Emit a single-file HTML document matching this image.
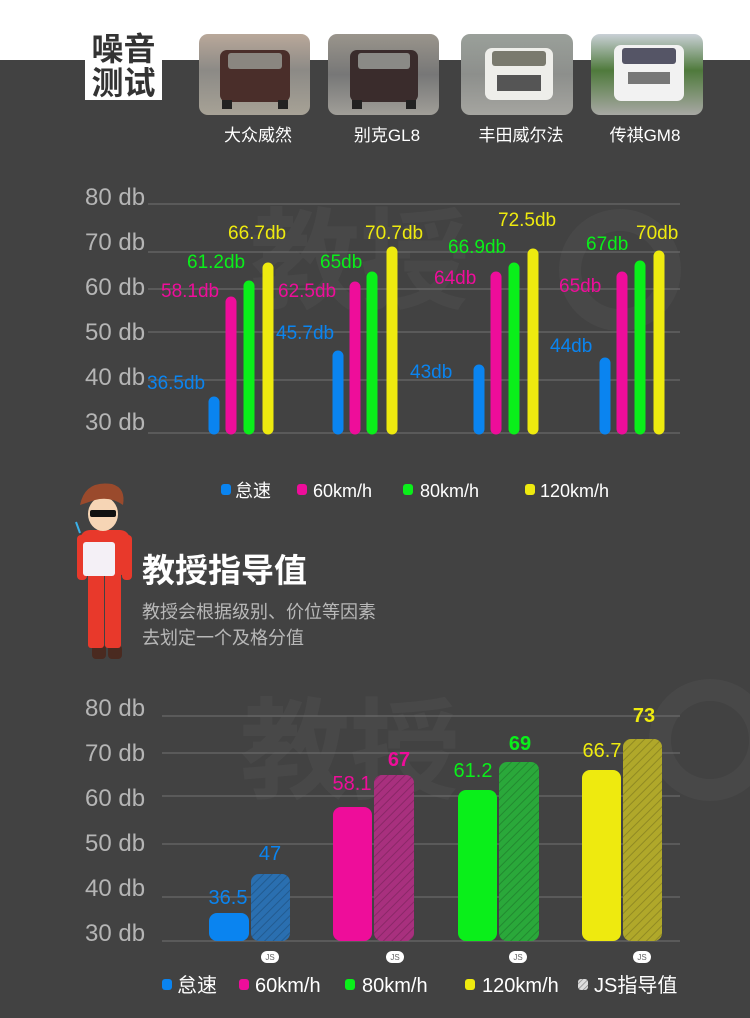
<!DOCTYPE html>
<html><head><meta charset="utf-8"><style>
html,body{margin:0;padding:0;background:#424242;}
svg{display:block;}
text{font-family:"Liberation Sans","Noto Sans CJK SC",sans-serif;}
</style></head><body>
<svg width="750" height="1018" viewBox="0 0 750 1018" xmlns="http://www.w3.org/2000/svg">
<defs>
<pattern id="h" width="6" height="6" patternUnits="userSpaceOnUse" patternTransform="rotate(45)">
<rect width="6" height="6" fill="none"/><line x1="0" y1="0" x2="0" y2="6" stroke="rgba(0,0,0,0.18)" stroke-width="2"/>
</pattern>
<pattern id="hw" width="4" height="4" patternUnits="userSpaceOnUse" patternTransform="rotate(45)">
<rect width="4" height="4" fill="#ddd"/><line x1="0" y1="0" x2="0" y2="4" stroke="#888" stroke-width="1.5"/>
</pattern>
<linearGradient id="c1" x1="0" y1="0" x2="0" y2="1"><stop offset="0" stop-color="#b9a89a"/><stop offset="0.45" stop-color="#8c8a86"/><stop offset="1" stop-color="#a7a296"/></linearGradient>
<linearGradient id="c2" x1="0" y1="0" x2="0" y2="1"><stop offset="0" stop-color="#9a958c"/><stop offset="0.5" stop-color="#777"/><stop offset="1" stop-color="#a09e98"/></linearGradient>
<linearGradient id="c3" x1="0" y1="0" x2="0" y2="1"><stop offset="0" stop-color="#9aa09a"/><stop offset="0.5" stop-color="#8d8f8c"/><stop offset="1" stop-color="#a5a5a0"/></linearGradient>
<linearGradient id="c4" x1="0" y1="0" x2="0" y2="1"><stop offset="0" stop-color="#c9d0d6"/><stop offset="0.45" stop-color="#4f7a3c"/><stop offset="1" stop-color="#a8a8a4"/></linearGradient>
</defs>
<rect x="0" y="0" width="750" height="60" fill="#fff"/>
<rect x="0" y="60" width="750" height="958" fill="#424242"/>
<!-- watermarks -->
<text x="250" y="300" font-size="110" font-weight="bold" fill="#484848">教授</text>
<text x="240" y="790" font-size="110" font-weight="bold" fill="#484848">教授</text>
<circle cx="620" cy="270" r="50" fill="none" stroke="#484848" stroke-width="22"/>
<circle cx="710" cy="740" r="50" fill="none" stroke="#484848" stroke-width="22"/>
<!-- title box -->
<rect x="85" y="27" width="77" height="73" fill="#fff"/>
<text x="123.5" y="60" font-size="32" font-weight="bold" fill="#333" text-anchor="middle">噪音</text>
<text x="123.5" y="94" font-size="32" font-weight="bold" fill="#333" text-anchor="middle">测试</text>
<!-- cars -->
<rect x="199" y="34" width="111" height="81" rx="9" fill="url(#c1)"/>
<rect x="220" y="50" width="70" height="52" rx="7" fill="#4a2e2a"/><rect x="228" y="53" width="54" height="16" rx="3" fill="#8a8680"/><rect x="222" y="100" width="10" height="9" fill="#222"/><rect x="278" y="100" width="10" height="9" fill="#222"/>
<rect x="328" y="34" width="111" height="81" rx="9" fill="url(#c2)"/>
<rect x="350" y="50" width="68" height="52" rx="7" fill="#3a2c2c"/><rect x="358" y="53" width="52" height="16" rx="3" fill="#8a8a86"/><rect x="352" y="100" width="10" height="9" fill="#222"/><rect x="406" y="100" width="10" height="9" fill="#222"/>
<rect x="461" y="34" width="112" height="81" rx="9" fill="url(#c3)"/>
<rect x="485" y="48" width="68" height="52" rx="7" fill="#eeeeea"/><rect x="492" y="51" width="54" height="15" rx="3" fill="#7a7a6e"/><rect x="497" y="75" width="44" height="16" fill="#555"/>
<rect x="591" y="34" width="112" height="81" rx="9" fill="url(#c4)"/>
<rect x="614" y="45" width="70" height="56" rx="7" fill="#f2f2f2"/><rect x="622" y="48" width="54" height="16" rx="3" fill="#556"/><rect x="628" y="72" width="42" height="12" fill="#777"/>
<g font-size="17" fill="#fff" text-anchor="middle">
<text x="258" y="141">大众威然</text><text x="387" y="141">别克GL8</text><text x="521" y="141">丰田威尔法</text><text x="645" y="141">传祺GM8</text>
</g>
<!-- chart 1 -->
<g stroke="#6a6a6a" stroke-width="1.2">
<line x1="148" y1="204" x2="680" y2="204"/><line x1="148" y1="252" x2="680" y2="252"/><line x1="148" y1="289" x2="680" y2="289"/><line x1="148" y1="332" x2="680" y2="332"/><line x1="148" y1="380" x2="680" y2="380"/><line x1="148" y1="433" x2="680" y2="433"/>
</g>
<g font-size="24" fill="#b5b5b5">
<text x="85" y="205">80 db</text><text x="85" y="250">70 db</text><text x="85" y="295">60 db</text><text x="85" y="340">50 db</text><text x="85" y="385">40 db</text><text x="85" y="430">30 db</text>
</g>
<g stroke-linecap="round" stroke-width="11">
<line x1="214" y1="402" x2="214" y2="429" stroke="#0a84f0"/><line x1="231" y1="302" x2="231" y2="429" stroke="#ee0d9a"/><line x1="249" y1="286" x2="249" y2="429" stroke="#0aef1a"/><line x1="268" y1="268" x2="268" y2="429" stroke="#eeea0f"/>
<line x1="338" y1="356" x2="338" y2="429" stroke="#0a84f0"/><line x1="355" y1="287" x2="355" y2="429" stroke="#ee0d9a"/><line x1="372" y1="277" x2="372" y2="429" stroke="#0aef1a"/><line x1="392" y1="252" x2="392" y2="429" stroke="#eeea0f"/>
<line x1="479" y1="370" x2="479" y2="429" stroke="#0a84f0"/><line x1="496" y1="277" x2="496" y2="429" stroke="#ee0d9a"/><line x1="514" y1="268" x2="514" y2="429" stroke="#0aef1a"/><line x1="533" y1="254" x2="533" y2="429" stroke="#eeea0f"/>
<line x1="605" y1="363" x2="605" y2="429" stroke="#0a84f0"/><line x1="622" y1="277" x2="622" y2="429" stroke="#ee0d9a"/><line x1="640" y1="266" x2="640" y2="429" stroke="#0aef1a"/><line x1="659" y1="256" x2="659" y2="429" stroke="#eeea0f"/>
</g>
<g font-size="19">
<text x="147" y="389" fill="#0a84f0">36.5db</text><text x="161" y="297" fill="#ee0d9a">58.1db</text><text x="187" y="268" fill="#0aef1a">61.2db</text><text x="228" y="239" fill="#eeea0f">66.7db</text>
<text x="276" y="339" fill="#0a84f0">45.7db</text><text x="278" y="297" fill="#ee0d9a">62.5db</text><text x="320" y="268" fill="#0aef1a">65db</text><text x="365" y="239" fill="#eeea0f">70.7db</text>
<text x="410" y="378" fill="#0a84f0">43db</text><text x="434" y="284" fill="#ee0d9a">64db</text><text x="448" y="253" fill="#0aef1a">66.9db</text><text x="498" y="226" fill="#eeea0f">72.5db</text>
<text x="550" y="352" fill="#0a84f0">44db</text><text x="559" y="292" fill="#ee0d9a">65db</text><text x="586" y="250" fill="#0aef1a">67db</text><text x="636" y="239" fill="#eeea0f">70db</text>
</g>
<g font-size="18" fill="#fff">
<rect x="221" y="484" width="10" height="11" rx="3" fill="#0a84f0"/><text x="235" y="497">怠速</text>
<rect x="297" y="484" width="10" height="11" rx="3" fill="#ee0d9a"/><text x="313" y="497">60km/h</text>
<rect x="403" y="484" width="10" height="11" rx="3" fill="#0aef1a"/><text x="420" y="497">80km/h</text>
<rect x="525" y="484" width="10" height="11" rx="3" fill="#eeea0f"/><text x="540" y="497">120km/h</text>
</g>
<!-- character -->
<g>
<rect x="92" y="645" width="14" height="14" rx="4" fill="#4a2a20"/><rect x="108" y="645" width="14" height="14" rx="4" fill="#4a2a20"/>
<rect x="88" y="568" width="16" height="80" rx="3" fill="#e8392b"/><rect x="105" y="568" width="16" height="80" rx="3" fill="#e8392b"/>
<rect x="80" y="530" width="50" height="45" rx="10" fill="#e8392b"/>
<rect x="77" y="535" width="10" height="45" rx="4" fill="#e8392b"/><rect x="122" y="535" width="10" height="45" rx="4" fill="#e8392b"/>
<rect x="83" y="542" width="32" height="34" rx="3" fill="#f4f0f6"/>
<ellipse cx="103" cy="514" rx="15" ry="17" fill="#f6d5b5"/>
<rect x="90" y="510" width="26" height="7" rx="2" fill="#111"/>
<path d="M80 505 Q85 480 112 484 Q126 488 123 505 Q110 496 95 500 Z" fill="#9a4a2c"/>
<line x1="80" y1="533" x2="76" y2="522" stroke="#3ab0e8" stroke-width="2"/>
</g>
<text x="142" y="582" font-size="33" font-weight="bold" fill="#fff">教授指导值</text>
<text x="142" y="618" font-size="18" fill="#b8b8b8">教授会根据级别、价位等因素</text>
<text x="142" y="644" font-size="18" fill="#b8b8b8">去划定一个及格分值</text>
<!-- chart 2 -->
<g stroke="#6a6a6a" stroke-width="1.2">
<line x1="162" y1="716" x2="680" y2="716"/><line x1="162" y1="753" x2="680" y2="753"/><line x1="162" y1="796" x2="680" y2="796"/><line x1="162" y1="844" x2="680" y2="844"/><line x1="162" y1="897" x2="680" y2="897"/><line x1="162" y1="941" x2="680" y2="941"/>
</g>
<g font-size="24" fill="#b5b5b5">
<text x="85" y="716">80 db</text><text x="85" y="761">70 db</text><text x="85" y="806">60 db</text><text x="85" y="851">50 db</text><text x="85" y="896">40 db</text><text x="85" y="941">30 db</text>
</g>
<rect x="209" y="913" width="40" height="28" rx="8" fill="#0a84f0"/>
<rect x="251" y="874" width="39" height="67" rx="8" fill="#2a6fb0"/><rect x="251" y="874" width="39" height="67" rx="8" fill="url(#h)"/>
<rect x="333" y="807" width="39" height="134" rx="8" fill="#ee0d9a"/>
<rect x="374" y="775" width="40" height="166" rx="8" fill="#a8307e"/><rect x="374" y="775" width="40" height="166" rx="8" fill="url(#h)"/>
<rect x="458" y="790" width="39" height="151" rx="8" fill="#0aef1a"/>
<rect x="499" y="762" width="40" height="179" rx="8" fill="#2aa83a"/><rect x="499" y="762" width="40" height="179" rx="8" fill="url(#h)"/>
<rect x="582" y="770" width="39" height="171" rx="8" fill="#eeea0f"/>
<rect x="623" y="739" width="39" height="202" rx="8" fill="#b0a82a"/><rect x="623" y="739" width="39" height="202" rx="8" fill="url(#h)"/>
<g font-size="20" text-anchor="middle">
<text x="228" y="904" fill="#0a84f0">36.5</text><text x="270" y="860" fill="#0a84f0">47</text>
<text x="352" y="790" fill="#ee0d9a">58.1</text><text x="399" y="766" fill="#ee0d9a" font-weight="bold">67</text>
<text x="473" y="777" fill="#0aef1a">61.2</text><text x="520" y="750" fill="#0aef1a" font-weight="bold">69</text>
<text x="602" y="757" fill="#eeea0f">66.7</text><text x="644" y="722" fill="#eeea0f" font-weight="bold">73</text>
</g>
<g font-size="8" fill="#666" text-anchor="middle">
<rect x="261" y="951" width="18" height="12" rx="6" fill="#fff"/><text x="270" y="960">JS</text>
<rect x="386" y="951" width="18" height="12" rx="6" fill="#fff"/><text x="395" y="960">JS</text>
<rect x="509" y="951" width="18" height="12" rx="6" fill="#fff"/><text x="518" y="960">JS</text>
<rect x="633" y="951" width="18" height="12" rx="6" fill="#fff"/><text x="642" y="960">JS</text>
</g>
<g font-size="20" fill="#fff">
<rect x="162" y="979" width="10" height="11" rx="3" fill="#0a84f0"/><text x="177" y="992">怠速</text>
<rect x="239" y="979" width="10" height="11" rx="3" fill="#ee0d9a"/><text x="255" y="992">60km/h</text>
<rect x="345" y="979" width="10" height="11" rx="3" fill="#0aef1a"/><text x="362" y="992">80km/h</text>
<rect x="465" y="979" width="10" height="11" rx="3" fill="#eeea0f"/><text x="482" y="992">120km/h</text>
<rect x="578" y="979" width="10" height="11" rx="3" fill="url(#hw)"/><text x="594" y="992">JS指导值</text>
</g>
</svg>
</body></html>
